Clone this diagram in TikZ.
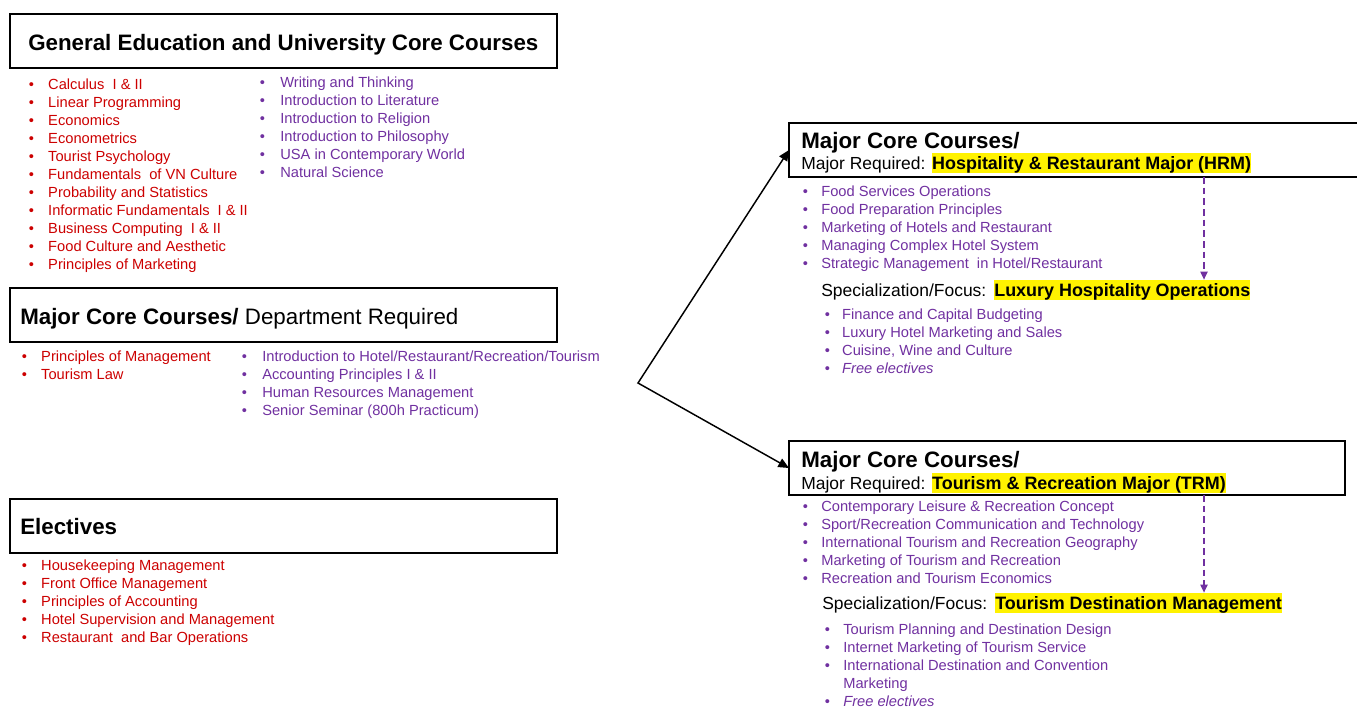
\documentclass[tikz,border=0pt]{standalone}
\usepackage{fontspec}
\setmainfont{Liberation Sans}
\usetikzlibrary{arrows.meta}
\definecolor{cred}{HTML}{CC0000}
\definecolor{cpur}{HTML}{7030A0}
\newlength\bw
\newcommand\setbw[1]{\global\bw=#1\relax}
\newcommand\bi[1]{\makebox[\bw][l]{\rule{0pt}{9pt}\textbullet}#1}
\newcommand\hlt[1]{{\setlength{\fboxsep}{0pt}\colorbox{yellow}{\fontsize{13.45}{16}\selectfont\rule[-0.22em]{0pt}{1.12em}#1}}}
\tikzset{
  box/.style={draw=black, line width=1.2pt, inner sep=0pt, outer sep=0pt, minimum height=40.5pt},
  ttl/.style={anchor=base west, inner sep=0pt, font=\fontsize{16.75}{20}\selectfont},
  subl/.style={anchor=base west, inner sep=0pt, font=\fontsize{13.1}{15.7}\selectfont},
  lst/.style={anchor=north west, inner sep=0pt, align=left, font=\fontsize{11}{13.5}\selectfont},
  conn/.style={line width=1.1pt, {Triangle[length=8pt,width=7pt]}-{Triangle[length=8pt,width=7pt]}},
  dsh/.style={draw=cpur, line width=0.8pt, dash pattern=on 5pt off 3pt, -{Triangle[length=6pt,width=5.5pt]}, color=cpur},
}
\begin{document}
\begin{tikzpicture}[x=0.75pt,y=-0.75pt]
\useasboundingbox (0,0) rectangle (1357,708);

% left boxes
\node[box, minimum width=410.25pt] (gen) at (283.5,41) {};
\node[box, minimum width=410.25pt] (dep) at (283.5,315) {};
\node[box, minimum width=410.25pt] (ele) at (283.5,526) {};
\node[ttl] (t1) at (28,50) {\bfseries General Education and University Core Courses};
\node[ttl] (t2) at (20,324) {\textbf{Major Core Courses/} Department Required};
\node[ttl] (t3) at (20,534) {\bfseries Electives};

% left lists
\node[lst, text=cred] (l1) at (28.5,77) {\setbw{14.6pt}%
\bi{Calculus\ \ I \& II}\\
\bi{Linear Programming}\\
\bi{Economics}\\
\bi{Econometrics}\\
\bi{Tourist Psychology}\\
\bi{Fundamentals\ \ of VN Culture}\\
\bi{Probability and Statistics}\\
\bi{Informatic Fundamentals\hspace{6pt}I \& II}\\
\bi{Business Computing\ \ I \& II}\\
\bi{Food Culture and Aesthetic}\\
\bi{Principles of Marketing}};
\node[lst, text=cpur] (l2) at (259.5,75) {\setbw{15.4pt}%
\bi{Writing and Thinking}\\
\bi{Introduction to Literature}\\
\bi{Introduction to Religion}\\
\bi{Introduction to Philosophy}\\
\bi{USA in Contemporary World}\\
\bi{Natural Science}};
\node[lst, text=cred] (l3) at (21.5,349) {\setbw{14.6pt}%
\bi{Principles of Management}\\
\bi{Tourism Law}};
\node[lst, text=cpur] (l4) at (241.5,349) {\setbw{15.4pt}%
\bi{Introduction to Hotel/Restaurant/Recreation/Tourism}\\
\bi{Accounting Principles I \& II}\\
\bi{Human Resources Management}\\
\bi{Senior Seminar (800h Practicum)}};
\node[lst, text=cred] (l5) at (21.5,558) {\setbw{14.6pt}%
\bi{Housekeeping Management}\\
\bi{Front Office Management}\\
\bi{Principles of Accounting}\\
\bi{Hotel Supervision and Management}\\
\bi{Restaurant\ \ and Bar Operations}};

% right boxes
\node[box, minimum width=429.75pt] (hrm) at (1075.5,150) {};
\node[box, minimum width=417pt] (trm) at (1067,468) {};
\node[ttl] (t4) at (801,148) {\bfseries Major Core Courses/};
\node[subl] (t5) at (801,169.5) {Major Required:\hspace{5pt}\hlt{\bfseries Hospitality \& Restaurant Major (HRM)}};
\node[ttl] (t6) at (801,467) {\bfseries Major Core Courses/};
\node[subl] (t7) at (801,489.5) {Major Required:\hspace{5pt}\hlt{\bfseries Tourism \& Recreation Major (TRM)}};

\node[lst, text=cpur] (r1) at (802.5,184) {\setbw{13.9pt}%
\bi{Food Services Operations}\\
\bi{Food Preparation Principles}\\
\bi{Marketing of Hotels and Restaurant}\\
\bi{Managing Complex Hotel System}\\
\bi{Strategic Management\ \ in Hotel/Restaurant}};
\node[subl] (s1) at (821,296) {Specialization/Focus:\hspace{6pt}\hlt{\bfseries Luxury Hospitality Operations}};
\node[lst, text=cpur] (r2) at (824.5,307) {\setbw{13.1pt}%
\bi{Finance and Capital Budgeting}\\
\bi{Luxury Hotel Marketing and Sales}\\
\bi{Cuisine, Wine and Culture}\\
\bi{\textit{Free electives}}};

\node[lst, text=cpur] (r3) at (802.5,499) {\setbw{13.9pt}%
\bi{Contemporary Leisure \& Recreation Concept}\\
\bi{Sport/Recreation Communication and Technology}\\
\bi{International Tourism and Recreation Geography}\\
\bi{Marketing of Tourism and Recreation}\\
\bi{Recreation and Tourism Economics}};
\node[subl] (s2) at (822,609) {Specialization/Focus:\hspace{6pt}\hlt{\bfseries Tourism Destination Management}};
\node[lst, text=cpur] (r4) at (824.5,622) {\setbw{13.9pt}%
\bi{Tourism Planning and Destination Design}\\
\bi{Internet Marketing of Tourism Service}\\
\bi{International Destination and Convention}\\
\hspace*{\bw}Marketing\\
\bi{\textit{Free electives}}};

% connectors
\coordinate (fork) at (638,383);
\draw[conn] (hrm.west) -- (fork) -- (trm.west);
\coordinate (d1) at (1204,177);
\coordinate (d2) at (1204,495);
\draw[dsh] (d1) -- (d1 |- s1.north);
\draw[dsh] (d2) -- (d2 |- s2.north);
\end{tikzpicture}
\end{document}
